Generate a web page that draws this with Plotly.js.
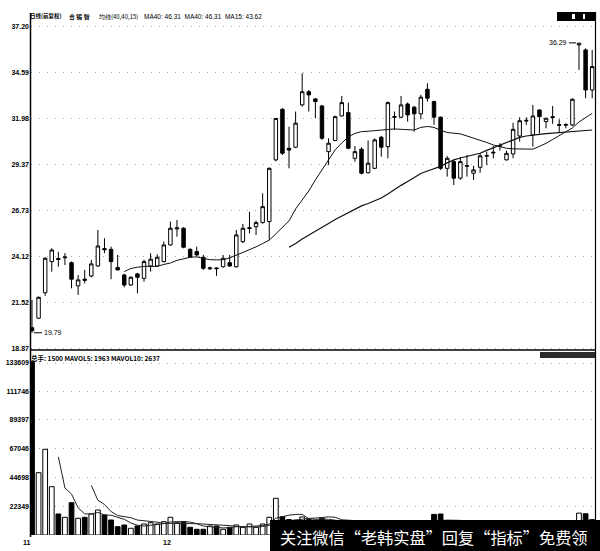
<!DOCTYPE html>
<html>
<head>
<meta charset="utf-8">
<script src="https://cdn.plot.ly/plotly-3.0.1.min.js"></script>
<style>
  html, body { margin: 0; padding: 0; background: #fff; }
  #chart { width: 600px; height: 551px; }
</style>
</head>
<body>
<div id="chart"></div>
<script>
// Daily candles (86 sessions, Nov - Jan), price panel
const openP = [20.08,20.62,22.07,23.84,24.02,24.06,23.78,22.46,22.84,23.02,
  23.59,24.58,24.54,23.50,23.08,22.51,23.14,22.89,23.59,23.59,
  23.84,24.79,25.70,25.74,24.54,24.41,24.09,23.43,23.48,23.55,
  23.78,23.55,24.98,25.72,25.83,26.06,26.12,29.63,32.51,30.29,
  30.35,32.76,33.51,33.10,32.70,30.10,30.73,32.13,32.32,29.72,
  30.24,28.90,29.15,30.92,30.38,32.05,32.06,32.81,32.63,32.25,
  33.65,32.95,32.06,29.15,29.53,28.59,29.27,28.87,29.21,29.84,
  30.02,30.40,29.63,29.97,30.99,31.84,31.05,32.47,31.81,32.04,
  31.64,31.60,31.62,36.17,35.89,33.61];
const highP = [21.66,21.85,24.10,24.60,24.40,24.32,23.85,23.08,23.37,23.94,
  25.64,25.17,24.69,24.22,23.15,23.00,23.20,23.95,24.32,24.25,
  24.98,26.12,26.21,25.80,24.60,24.69,24.22,23.55,23.52,24.22,
  24.22,25.64,25.98,26.68,26.17,27.73,29.20,32.00,32.57,31.52,
  32.38,34.56,33.60,33.15,32.76,30.86,32.15,33.27,32.89,30.42,
  30.35,30.73,30.85,31.00,32.95,32.38,33.27,32.90,32.70,33.33,
  33.99,33.00,32.10,29.85,29.62,29.80,29.91,29.29,30.00,30.10,
  30.42,30.58,30.16,31.75,32.06,32.06,32.76,32.50,32.02,32.70,
  31.94,31.72,33.14,36.29,35.98,35.89];
const lowP = [19.79,20.60,21.89,23.27,23.55,23.65,22.32,21.94,22.61,22.95,
  23.55,24.32,22.84,23.33,22.38,22.45,22.04,22.70,23.27,23.55,
  23.80,24.75,25.26,24.60,24.05,24.12,23.37,23.37,23.03,23.50,
  23.55,23.50,24.90,25.45,25.36,26.00,25.07,29.55,29.91,29.15,
  30.30,32.66,32.38,32.00,30.77,29.34,30.70,32.10,30.24,29.53,
  28.80,28.85,29.10,29.81,29.72,31.34,32.00,31.81,31.24,31.94,
  32.95,31.62,29.06,28.68,28.20,28.50,28.68,28.49,28.90,29.34,
  29.72,30.16,29.60,29.72,30.67,31.62,30.38,31.14,31.43,31.68,
  31.15,31.43,31.55,34.75,33.14,33.14];
const closeP = [19.90,21.81,24.03,24.50,23.96,24.10,22.84,22.80,22.78,23.71,
  24.73,24.52,23.84,23.37,22.51,22.95,22.95,23.84,23.98,24.09,
  24.79,25.74,25.76,24.66,24.10,24.22,23.46,23.48,23.44,24.03,
  23.59,25.36,25.74,25.76,26.06,26.97,29.15,31.99,30.01,30.19,
  31.72,33.51,33.33,32.95,30.86,30.58,32.09,32.89,30.29,30.10,
  28.87,29.44,30.77,30.35,32.89,32.09,32.76,32.19,32.25,33.20,
  33.14,32.06,29.15,29.72,28.59,29.53,29.30,29.06,29.86,29.88,
  30.06,30.44,30.00,31.37,31.86,31.88,32.13,32.09,32.00,32.08,
  31.60,31.64,33.08,36.27,33.61,34.94];

// Moving averages (MA15 from session 15, MA40 from session 40)
const ma15 = [23.27,23.45,23.52,23.57,23.57,23.57,23.68,23.76,23.91,24.02,
  24.09,24.11,24.02,23.95,23.94,23.95,24.05,24.20,24.39,24.54,
  24.68,24.87,25.06,25.42,25.81,26.16,26.84,27.35,27.86,28.49,
  29.06,29.63,30.20,30.59,30.94,31.14,31.24,31.26,31.28,31.32,
  31.36,31.39,31.37,31.35,31.33,31.48,31.53,31.48,31.31,31.19,
  31.15,31.11,30.99,30.88,30.77,30.62,30.48,30.38,30.29,30.26,
  30.24,30.24,30.24,30.40,30.57,30.79,31.02,31.22,31.45,31.79,
  32.05,32.28];
const ma40 = [24.66,24.87,25.13,25.34,25.56,25.80,26.01,26.24,26.44,26.64,
  26.84,27.01,27.15,27.29,27.46,27.69,27.95,28.18,28.40,28.63,
  28.86,29.00,29.13,29.26,29.46,29.63,29.74,29.83,29.91,30.01,
  30.17,30.32,30.48,30.63,30.78,30.91,30.99,31.05,31.08,31.12,
  31.15,31.17,31.21,31.25,31.28,31.31,31.33];

// Volume panel (lots) and its moving averages
const volume = [134500,48400,66570,37520,16310,13750,25090,12970,13750,16310,
  19420,15540,11650,6450,7770,5200,7000,8540,9550,8540,
  10330,13750,9550,10330,5980,4430,4430,7000,7000,4430,
  5980,7770,5980,8540,5980,8540,13750,28510,14210,12000,
  11500,14000,12000,11000,13000,11000,10500,9000,11000,8000,
  10000,8500,9000,8000,11000,8000,8500,7500,7000,8000,
  9000,16000,16300,8500,8000,8000,7000,6000,7000,6000,
  6500,6000,6500,9000,8000,6000,8500,7000,6000,6500,
  5500,5000,10000,17000,16500,12000];
const mavol5 = [60660,36510,31848,21128,16374,16374,17508,15598,15334,13874,
  12166,9322,7614,6992,7612,7766,8792,10142,10344,10500,
  9988,8808,6944,6434,5768,5458,5768,6436,6232,6540,
  6850,7362,8558,13064,14198,15402,15994,16044,12742,12100,
  12300,12200,11500,10900,10900,9900,9700,9300,9300,8700,
  9300,8900,8900,8600,8400,7800,8000,9500,11260,11560,
  11560,11360,9560,7500,7200,6800,6500,6300,6400,6800,
  7200,7100,7600,7700,7100,6800,6700,6000,6600,8800,
  10800,12100];
const mavol10 = [38517,27009,23723,18231,15124,14270,13415,11606,11163,10743,
  9966,9057,8878,8668,9056,8877,8800,8543,8389,8134,
  7723,7288,6690,6333,6154,6154,6565,7497,9648,10369,
  11126,11678,12301,12903,13149,13851,14097,13772,11821,11500,
  11100,10950,10400,10100,9800,9600,9300,9100,8950,8550,
  8550,8450,9200,9930,9980,9680,9680,9530,9380,9380,
  9180,8930,7930,6950,7000,7000,6800,6950,7050,6950,
  7000,6900,6800,7150,7950,8800,9400];

// Axis labels
const priceTicks = [37.20, 34.59, 31.98, 29.37, 26.73, 24.12, 21.52, 18.87];
const priceTickText = ['37.20', '34.59', '31.98', '29.37', '26.73', '24.12', '21.52', '18.87'];
const volTicks = [133609, 111746, 89397, 67046, 44698, 22349];
const volTickText = ['133609', '111746', '89397', '67046', '44698', '22349'];
const monthLabels = ['11', '12'];
const monthPixel = [27, 167];

const days = openP.map((_, i) => i);
const volColors = closeP.map((c, i) => (c >= openP[i] ? '#ffffff' : '#000000'));

// pixel helpers for decorations (plot area: x 31..596, y 13..535)
const PL = 31, PR = 596, PT = 13, PB = 535;
const px = x => (x - PL) / (PR - PL);
const py = y => (PB - y) / (PB - PT);

const latin = 'Liberation Sans, Arial, sans-serif';
const cjk = 'Noto Sans CJK SC, sans-serif';

const traces = [
  {
    type: 'candlestick', x: days, open: openP, high: highP, low: lowP, close: closeP,
    xaxis: 'x', yaxis: 'y', whiskerwidth: 0, hoverinfo: 'skip',
    increasing: { line: { color: '#000', width: 1 }, fillcolor: '#ffffff' },
    decreasing: { line: { color: '#000', width: 1 }, fillcolor: '#000000' }
  },
  {
    type: 'scatter', mode: 'lines', x: days.slice(14), y: ma15,
    xaxis: 'x', yaxis: 'y', line: { color: '#111', width: 1 }, hoverinfo: 'skip'
  },
  {
    type: 'scatter', mode: 'lines', x: days.slice(39), y: ma40,
    xaxis: 'x', yaxis: 'y', line: { color: '#111', width: 1.2 }, hoverinfo: 'skip'
  },
  {
    type: 'bar', x: days, y: volume, xaxis: 'x2', yaxis: 'y2', width: 0.72,
    marker: { color: volColors, line: { color: '#000', width: 1 } }, hoverinfo: 'skip'
  },
  {
    type: 'scatter', mode: 'lines', x: days.slice(4), y: mavol5,
    xaxis: 'x2', yaxis: 'y2', line: { color: '#222', width: 1 }, hoverinfo: 'skip'
  },
  {
    type: 'scatter', mode: 'lines', x: days.slice(9), y: mavol10,
    xaxis: 'x2', yaxis: 'y2', line: { color: '#222', width: 1 }, hoverinfo: 'skip'
  }
];

const xRange = [-0.15, 85.58];
const axisFont = { family: latin, size: 7, color: '#000', weight: 700 };

const annotations = [
  // header of price panel
  { xref: 'paper', yref: 'paper', x: px(28), y: py(16), xanchor: 'left', yanchor: 'middle',
    text: '日线(前复权)', showarrow: false, font: { family: cjk, size: 5.5, color: '#000', weight: 700 } },
  { xref: 'paper', yref: 'paper', x: px(67), y: py(16), xanchor: 'left', yanchor: 'middle',
    text: '合 锻 智', showarrow: false, font: { family: cjk, size: 6, color: '#000', weight: 700 } },
  { xref: 'paper', yref: 'paper', x: px(97), y: py(16), xanchor: 'left', yanchor: 'middle',
    text: '均线(40,40,15)', showarrow: false, font: { family: cjk, size: 6, color: '#000' } },
  { xref: 'paper', yref: 'paper', x: px(142), y: py(16), xanchor: 'left', yanchor: 'middle',
    text: 'MA40: 46.31  MA40: 46.31  MA15: 43.62', showarrow: false,
    font: { family: latin, size: 6.5, color: '#000' } },
  // header of volume panel
  { xref: 'paper', yref: 'paper', x: px(29), y: py(358), xanchor: 'left', yanchor: 'middle',
    text: '总手: 1500 MAVOL5: 1963 MAVOL10: 2637', showarrow: false,
    font: { family: cjk, size: 6.5, color: '#000', weight: 700 } },
  // extreme price markers
  { xref: 'x', yref: 'y', x: 0, y: lowP[0], text: '19.79', showarrow: true, arrowhead: 0,
    arrowwidth: 1, arrowcolor: '#000', ax: 10, ay: 0, xanchor: 'left', standoff: 2,
    font: { family: latin, size: 7, color: '#000' } },
  { xref: 'x', yref: 'y', x: 83, y: highP[83], text: '36.29', showarrow: true, arrowhead: 0,
    arrowwidth: 1, arrowcolor: '#000', ax: -10, ay: 0, xanchor: 'right', standoff: 3,
    font: { family: latin, size: 7, color: '#000' } },
  // caption band
  { xref: 'paper', yref: 'paper', x: px(278), y: py(536.5), xanchor: 'left', yanchor: 'middle',
    text: '关注微信“老韩实盘”回复“指标”免费领', showarrow: false,
    font: { family: cjk, size: 16.2, color: '#ffffff' } }
];
// month labels under the volume panel
monthLabels.forEach((m, k) => {
  annotations.push({ xref: 'paper', yref: 'paper', x: px(monthPixel[k]), y: py(542), xanchor: 'center',
    yanchor: 'middle', text: m, showarrow: false, font: { family: latin, size: 7, color: '#000', weight: 700 } });
});

const shapes = [
  // panel separator and frame
  { type: 'line', xref: 'paper', yref: 'paper', x0: px(30), x1: px(596), y0: py(350), y1: py(350),
    line: { color: '#000', width: 1.6 } },
  { type: 'line', xref: 'paper', yref: 'paper', x0: px(30.5), x1: px(30.5), y0: py(13), y1: py(537),
    line: { color: '#000', width: 1.5 } },
  { type: 'line', xref: 'paper', yref: 'paper', x0: px(595.5), x1: px(595.5), y0: py(12), y1: py(551),
    line: { color: '#000', width: 1.2 } },
  // window buttons
  { type: 'rect', xref: 'paper', yref: 'paper', x0: px(557), x1: px(595), y0: py(21), y1: py(12),
    fillcolor: '#000', line: { width: 0 } },
  { type: 'rect', xref: 'paper', yref: 'paper', x0: px(572), x1: px(575), y0: py(19), y1: py(14),
    fillcolor: '#fff', line: { width: 0 } },
  { type: 'rect', xref: 'paper', yref: 'paper', x0: px(583), x1: px(585), y0: py(19), y1: py(14),
    fillcolor: '#fff', line: { width: 0 } },
  { type: 'rect', xref: 'paper', yref: 'paper', x0: px(540), x1: px(595), y0: py(358), y1: py(352),
    fillcolor: '#2a2a2a', line: { width: 0 } },
  // caption band
  { type: 'rect', xref: 'paper', yref: 'paper', layer: 'above', x0: px(270), x1: px(601),
    y0: py(552), y1: py(520), fillcolor: '#000', line: { width: 0 } }
];

const layout = {
  width: 600, height: 551,
  margin: { l: PL, r: 600 - PR, t: PT, b: 551 - PB },
  paper_bgcolor: '#fff', plot_bgcolor: '#fff',
  showlegend: false, hovermode: false, boxgap: 0.25, bargap: 0.28,
  xaxis: { domain: [0, 1], range: xRange, anchor: 'y', showticklabels: false, showgrid: false,
    zeroline: false, showline: false, ticks: '', rangeslider: { visible: false }, fixedrange: true },
  xaxis2: { domain: [0, 1], range: xRange, anchor: 'y2', showticklabels: false, showgrid: false,
    zeroline: false, showline: false, ticks: '', fixedrange: true },
  yaxis: { domain: [py(350), 1], range: [18.81, 37.99], anchor: 'x', tickvals: priceTicks,
    ticktext: priceTickText, tickfont: axisFont, ticks: '', ticklabelstandoff: 1,
    showgrid: true, gridcolor: '#a8a8a8', griddash: '1px,7px', gridwidth: 1,
    zeroline: false, showline: false, fixedrange: true },
  yaxis2: { domain: [0, py(352)], range: [0, 142155], anchor: 'x2', tickvals: volTicks,
    ticktext: volTickText, tickfont: axisFont, ticks: '', ticklabelstandoff: 1,
    showgrid: true, gridcolor: '#a8a8a8', griddash: '1px,7px', gridwidth: 1,
    zeroline: false, showline: false, fixedrange: true },
  annotations: annotations,
  shapes: shapes
};

Plotly.newPlot('chart', traces, layout, { displayModeBar: false, staticPlot: true });
</script>
</body>
</html>
